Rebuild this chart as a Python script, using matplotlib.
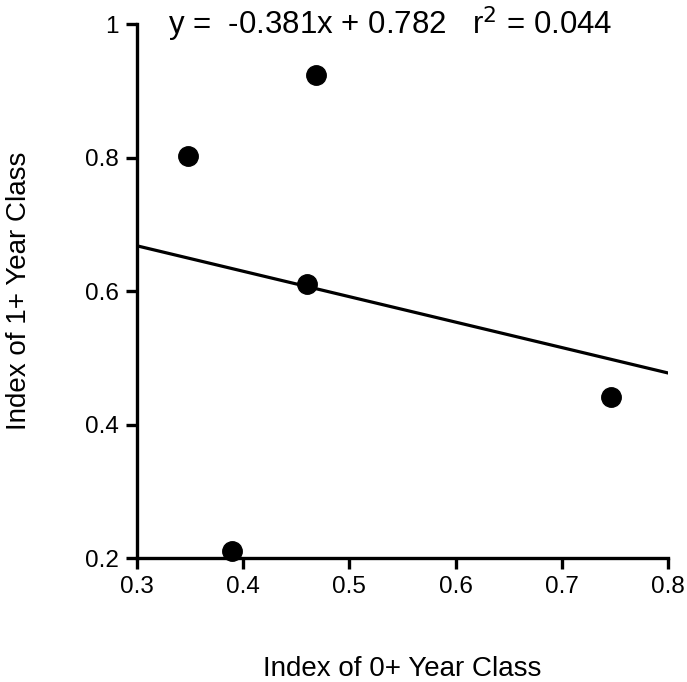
import numpy as np
import matplotlib
matplotlib.use("Agg")
from matplotlib import pyplot as plt

plt.rcParams['font.family'] = ['Liberation Sans', 'DejaVu Sans']

# data
x_vals = [0.348, 0.469, 0.460, 0.389, 0.746]
y_vals = [0.803, 0.923, 0.611, 0.210, 0.441]
slope = -0.381
intercept = 0.782
r2 = 0.044

x_ticks = [0.3, 0.4, 0.5, 0.6, 0.7, 0.8]
y_ticks = [0.2, 0.4, 0.6, 0.8, 1.0]
y_tick_labels = ['0.2', '0.4', '0.6', '0.8', '1']


def main():
    fig = plt.figure(figsize=(6.87, 6.82), dpi=100)
    ax = fig.add_axes([0.1994, 0.1818, 0.773, 0.783])

    xl = np.array([0.3, 0.8])
    ax.plot(xl, slope * xl + intercept, color='black', lw=2.3, zorder=2)
    ax.plot(x_vals, y_vals, 'o', color='black', ms=14, zorder=3,
            clip_on=False)

    ax.set_xlim(0.3, 0.8)
    ax.set_ylim(0.2, 1.0)
    ax.set_xticks(x_ticks)
    ax.set_xticklabels(['{:.1f}'.format(v) for v in x_ticks])
    ax.set_yticks(y_ticks)
    ax.set_yticklabels(y_tick_labels)

    for s in ['top', 'right']:
        ax.spines[s].set_visible(False)
    for s in ['left', 'bottom']:
        ax.spines[s].set_linewidth(2.4)
    ax.tick_params(axis='both', direction='out', length=8, width=2.4,
                   labelsize=17.5, pad=5)

    ax.set_xlabel('Index of 0+ Year Class', fontsize=20, labelpad=42)
    ax.set_ylabel('Index of 1+ Year Class', fontsize=20, labelpad=38)

    ax.text(0.3 + 0.029, 1.0, 'y =  -0.381x + 0.782   r$^2$ = 0.044',
            fontsize=22.5, va='center', ha='left')

    fig.savefig('out.png', dpi=100)


main()
